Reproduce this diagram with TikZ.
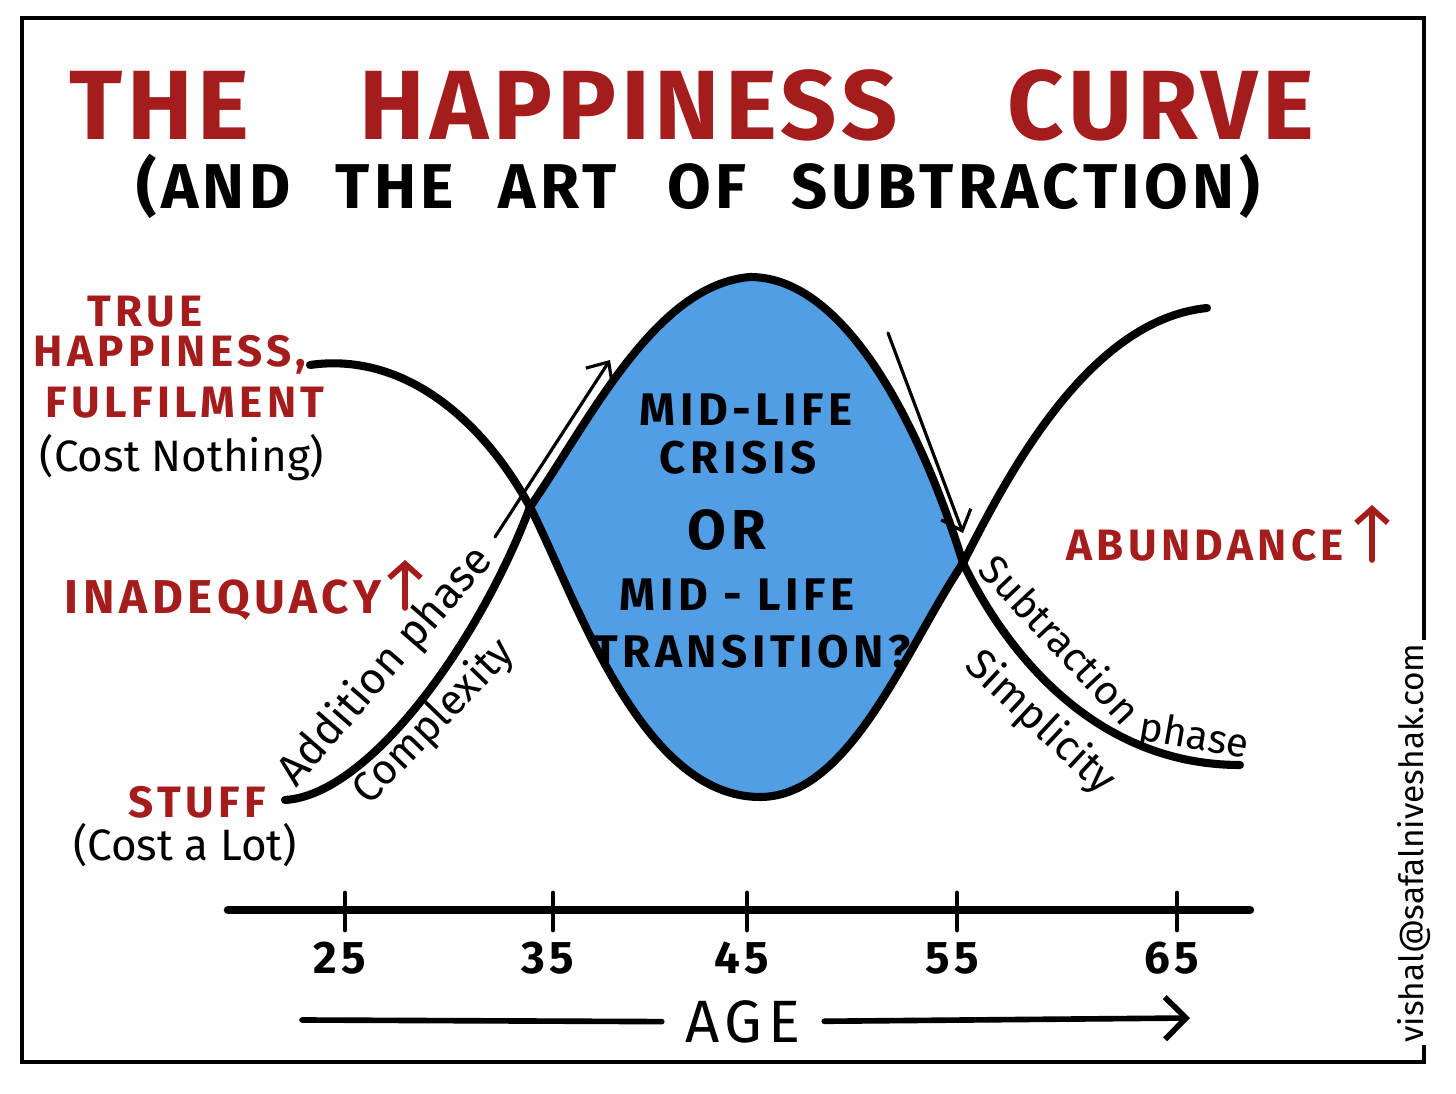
\documentclass[tikz,border=0pt]{standalone}
\usepackage{fontspec}
\setmainfont{Fira Sans}
\newfontfamily\handfont[LetterSpace=10]{Fira Sans}
\newfontfamily\titlefont[LetterSpace=5]{Fira Sans}
\newfontfamily\subfont[LetterSpace=7]{Fira Sans}
\usetikzlibrary{arrows.meta}
\definecolor{happyred}{RGB}{165,28,28}
\definecolor{crisisblue}{RGB}{82,158,228}

\begin{document}
\begin{tikzpicture}
  [x=0.01cm, y=-0.01cm,
   redlab/.style={text=happyred, font=\handfont\bfseries\fontsize{12.5}{14}\selectfont, inner sep=0pt},
   inklab/.style={font=\fontsize{12.5}{15}\selectfont, inner sep=0pt},
   blobtxt/.style={font=\handfont\bfseries\fontsize{13}{15}\selectfont, inner sep=0pt},
   curve/.style={line width=2.3pt, line cap=round, line join=round},
   thinarrow/.style={line width=0.9pt, line cap=round, -{Straight Barb[length=5pt, width=9pt]}},
   redarrow/.style={happyred, line width=1.6pt, line cap=round, -{Straight Barb[length=4pt, width=9pt]}},
   tick/.style={line width=1.4pt, line cap=round}]
  \useasboundingbox (0,0) rectangle (1456,1094);

  % frame, open where the mail address runs over it
  \draw[line width=1.2pt] (1424,640) -- (1424,18) -- (22,18) -- (22,1062)
    -- (1424,1062) -- (1424,1045);

  % heading
  \node[text=happyred, font=\titlefont\bfseries\fontsize{28}{32}\selectfont, inner sep=0pt]
    (title) at (692,105) {THE\hspace{1.1cm}HAPPINESS\hspace{1.1cm}CURVE};
  \node[font=\subfont\bfseries\fontsize{18}{22}\selectfont, inner sep=0pt]
    (subtitle) at (698,186) {(AND\hspace{0.45cm}THE\hspace{0.45cm}ART\hspace{0.5cm}OF\hspace{0.45cm}SUBTRACTION)};

  % where the two curves meet, top and bottom of the blob
  \coordinate (xleft) at (530,507);
  \coordinate (xright) at (963,563);
  \coordinate (top) at (750,277);
  \coordinate (bottom) at (760,797);

  % the crisis between the two curves
  \fill[crisisblue] (xleft) .. controls (590,420) and (655,285) .. (top)
    .. controls (850,277) and (925,440) .. (xright)
    .. controls (905,650) and (850,797) .. (bottom)
    .. controls (640,797) and (575,595) .. (xleft) -- cycle;

  % happiness (U) and stuff (inverted U)
  \coordinate (happystart) at (310,365);
  \coordinate (happyend) at (1207,308);
  \coordinate (stuffstart) at (285,800);
  \coordinate (stuffend) at (1240,765);
  \draw[curve] (happystart) .. controls (400,352) and (480,415) .. (xleft)
    .. controls (575,595) and (640,797) .. (bottom)
    .. controls (850,797) and (905,650) .. (xright)
    .. controls (1010,470) and (1090,320) .. (happyend);
  \draw[curve] (stuffstart) .. controls (370,795) and (480,640) .. (xleft)
    .. controls (590,420) and (655,285) .. (top)
    .. controls (850,277) and (925,440) .. (xright)
    .. controls (1010,660) and (1100,765) .. (stuffend);

  % phase arrows
  \coordinate (addfrom) at (495,537);
  \coordinate (addto) at (610,360);
  \coordinate (subfrom) at (888,333);
  \coordinate (subto) at (963,533);
  \draw[thinarrow] (addfrom) -- (addto);
  \draw[thinarrow] (subfrom) -- (subto);

  % left side
  \node[redlab] (true) at (145,312) {TRUE};
  \node[redlab] (happy) at (170,355) {HAPPINESS,};
  \node[redlab] (fulfil) at (185,403) {FULFILMENT};
  \node[inklab] (nothing) at (182,458) {(Cost Nothing)};
  \node[redlab, font=\handfont\bfseries\fontsize{13.5}{15}\selectfont] (inadq) at (223,600) {INADEQUACY};
  \node[redlab] (stuff) at (197,802) {STUFF};
  \node[inklab] (alot) at (185,845) {(Cost a Lot)};
  \coordinate (inadqlo) at (405,608);
  \coordinate (inadqhi) at (405,560);
  \draw[redarrow] (inadqlo) -- (inadqhi);

  % right side
  \node[redlab] (abund) at (1205,545) {ABUNDANCE};
  \coordinate (abundlo) at (1372,560);
  \coordinate (abundhi) at (1372,505);
  \draw[redarrow] (abundlo) -- (abundhi);

  % inside the blob
  \node[blobtxt] (mid1) at (746,410) {MID-LIFE};
  \node[blobtxt] (crisis) at (738,458) {CRISIS};
  \node[blobtxt, font=\handfont\bfseries\fontsize{16}{18}\selectfont] (or) at (727,530) {OR};
  \node[blobtxt] (mid2) at (737,595) {MID - LIFE};
  \node[blobtxt] (trans) at (752,652) {TRANSITION?};

  % along the curves
  \node[inklab, rotate=49, anchor=base] (addph) at (395,675) {Addition phase};
  \node[inklab, rotate=46, font=\fontsize{12}{14}\selectfont] (complex) at (434,722) {Complexity};
  \node[inklab, rotate=-47, font=\fontsize{11.5}{14}\selectfont] (subtr) at (1061,639) {Subtraction};
  \node[inklab, rotate=-10, font=\fontsize{11.5}{14}\selectfont] (phase) at (1194,738) {phase};
  \node[inklab, rotate=-43, font=\fontsize{12}{14}\selectfont] (simple) at (1040,723) {Simplicity};
  \node[inklab, rotate=90, font=\fontsize{9.5}{11}\selectfont] (mail) at (1414,843)
    {vishal@safalniveshak.com};

  % age axis
  \coordinate (axl) at (228,910);
  \coordinate (axr) at (1250,910);
  \draw[line width=2.4pt, line cap=round] (axl) -- (axr);
  \foreach \x/\a in {345/25,553/35,747/45,957/55,1177/65}{
    \draw[tick] (\x,893) -- (\x,930);
    \node[blobtxt] (t\a) at (\x-5,958) {\a}; }
  \node[font=\handfont\fontsize{17}{20}\selectfont, inner sep=0pt, inner xsep=6.5pt] (age) at (743,1022) {AGE};
  \coordinate (agel) at (302,1020);
  \coordinate (ager) at (1190,1018);
  \draw[line width=1.6pt, line cap=round] (agel) -- (age);
  \draw[line width=1.6pt, line cap=round, -{Straight Barb[length=6pt, width=12pt]}] (age) -- (ager);
\end{tikzpicture}
\end{document}
